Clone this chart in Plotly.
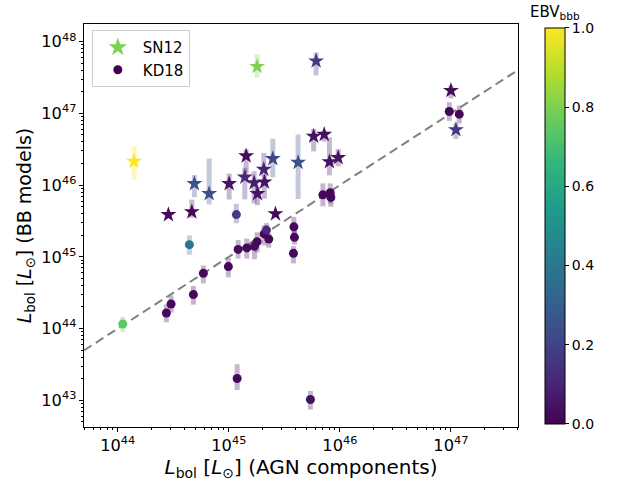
import numpy as np
import plotly.graph_objects as go
from plotly.colors import sample_colorscale

# ---- SN12 sample (stars): log10 luminosities, EBV and asymmetric errors (dex)
sn12_log_agn = [44.147, 45.255, 45.786, 44.456, 44.667, 44.690, 44.823, 45.003,
                45.156, 45.144, 45.228, 45.258, 45.315, 45.321, 45.396, 45.624,
                45.764, 45.859, 45.906, 45.985, 45.420, 47.000, 47.045]
sn12_log_bb = [46.330, 47.653, 47.730, 45.588, 45.627, 46.020, 45.880, 46.020,
               46.407, 46.111, 46.033, 45.880, 46.219, 46.042, 46.368, 46.316,
               46.681, 46.706, 46.326, 46.382, 45.599, 47.319, 46.772]
sn12_ebv = [1.00, 0.80, 0.17, 0.02, 0.02, 0.25, 0.25, 0.05, 0.03, 0.12, 0.08,
            0.05, 0.10, 0.05, 0.22, 0.25, 0.05, 0.05, 0.05, 0.05, 0.02, 0.03, 0.17]
sn12_err_up = [0.21, 0.17, 0.12, 0.03, 0.17, 0.12, 0.49, 0.14, 0.09, 0.13, 0.16,
               0.10, 0.23, 0.10, 0.28, 0.39, 0.10, 0.05, 0.34, 0.12, 0.03, 0.07, 0.09]
sn12_err_dn = [0.26, 0.15, 0.20, 0.03, 0.08, 0.19, 0.15, 0.22, 0.24, 0.31, 0.29,
               0.16, 0.10, 0.23, 0.26, 0.51, 0.21, 0.10, 0.19, 0.12, 0.03, 0.11, 0.13]

# ---- KD18 sample (circles)
kd18_log_agn = [44.045, 44.438, 44.480, 44.681, 44.771, 44.996, 45.084, 45.162,
                45.231, 45.255, 45.318, 45.339, 45.360, 45.586, 45.591, 45.582,
                45.068, 44.645, 45.075, 45.735, 45.847, 45.913, 45.919, 46.985, 47.075]
kd18_log_bb = [44.064, 44.217, 44.343, 44.474, 44.770, 44.864, 45.104, 45.125,
               45.146, 45.212, 45.320, 45.373, 45.248, 45.418, 45.272, 45.049,
               45.589, 45.170, 43.304, 43.011, 45.864, 45.894, 45.829, 47.026, 46.989]
kd18_ebv = [0.75, 0.02, 0.02, 0.02, 0.02, 0.02, 0.03, 0.02, 0.03, 0.02, 0.02,
            0.12, 0.02, 0.02, 0.02, 0.02, 0.18, 0.38, 0.02, 0.05, 0.02, 0.02,
            0.02, 0.02, 0.02]
kd18_err_up = [0.10, 0.12, 0.12, 0.12, 0.11, 0.12, 0.13, 0.13, 0.08, 0.13, 0.12,
               0.10, 0.08, 0.14, 0.10, 0.10, 0.15, 0.13, 0.20, 0.12, 0.16, 0.13,
               0.10, 0.13, 0.12]
kd18_err_dn = [0.11, 0.13, 0.12, 0.14, 0.14, 0.15, 0.13, 0.15, 0.18, 0.15, 0.16,
               0.10, 0.12, 0.10, 0.10, 0.14, 0.12, 0.14, 0.16, 0.14, 0.16, 0.15,
               0.13, 0.13, 0.13]

# axis limits (log10 L_sun)
x_lim = [43.696, 47.604]
y_lim = [42.628, 48.246]

FONT = "DejaVu Sans"
STAR_SIZE = 12
DOT_SIZE = 9
fig = go.Figure()


def add_errorbars(log_x, log_y, up, dn, ebv):
    cols = sample_colorscale("Viridis", ebv)
    for lx, ly, u, d, c in zip(log_x, log_y, up, dn, cols):
        rgb = c[c.index("(") + 1:c.index(")")]
        fig.add_trace(go.Scatter(
            x=[10 ** lx, 10 ** lx], y=[10 ** (ly - d), 10 ** (ly + u)],
            mode="lines", line=dict(color=f"rgba({rgb},0.3)", width=5),
            hoverinfo="skip", showlegend=False))


add_errorbars(kd18_log_agn, kd18_log_bb, kd18_err_up, kd18_err_dn, kd18_ebv)
add_errorbars(sn12_log_agn, sn12_log_bb, sn12_err_up, sn12_err_dn, sn12_ebv)

# one-to-one relation
fig.add_trace(go.Scatter(
    x=[10 ** x_lim[0], 10 ** x_lim[1]], y=[10 ** x_lim[0], 10 ** x_lim[1]],
    mode="lines", line=dict(color="#808080", width=2, dash="9px,5px"),
    hoverinfo="skip", showlegend=False))

fig.add_trace(go.Scatter(
    x=10 ** np.array(kd18_log_agn), y=10 ** np.array(kd18_log_bb),
    mode="markers", showlegend=False,
    marker=dict(symbol="circle", size=DOT_SIZE, color=kd18_ebv, cmin=0, cmax=1,
                colorscale="Viridis", line=dict(width=0))))

fig.add_trace(go.Scatter(
    x=10 ** np.array(sn12_log_agn), y=10 ** np.array(sn12_log_bb),
    mode="markers", showlegend=False,
    marker=dict(symbol="star", size=STAR_SIZE, color=sn12_ebv, cmin=0, cmax=1,
                colorscale="Viridis", line=dict(width=0),
                showscale=True,
                colorbar=dict(
                    x=(545 - 84) / 434, xanchor="left", xpad=0, ypad=0,
                    y=0.4988, yanchor="middle", len=0.983, lenmode="fraction",
                    thickness=20, outlinewidth=1, outlinecolor="black",
                    tickvals=[0, 0.2, 0.4, 0.6, 0.8, 1.0], tickformat=".1f",
                    ticks="outside", ticklen=4, tickcolor="black",
                    tickfont=dict(family=FONT, size=14, color="black")))))

# legend entries (placed on the minor-tick overlay axes so those axes render)
fig.add_trace(go.Scatter(x=[None], y=[None], mode="markers", name="SN12",
                         xaxis="x2", yaxis="y2",
                         marker=dict(symbol="star", size=STAR_SIZE + 2,
                                     color=sample_colorscale("Viridis", [0.8])[0])))
fig.add_trace(go.Scatter(x=[None], y=[None], mode="markers", name="KD18",
                         xaxis="x2", yaxis="y2",
                         marker=dict(symbol="circle", size=DOT_SIZE,
                                     color=sample_colorscale("Viridis", [0.0])[0])))


def minor_ticks(lim):
    vals = []
    for d in range(int(np.floor(lim[0])), int(np.ceil(lim[1])) + 1):
        for m in range(2, 10):
            v = np.log10(m) + d
            if lim[0] <= v <= lim[1]:
                vals.append(m * 10.0 ** d)
    return vals


axis_common = dict(
    type="log", dtick=1, exponentformat="power", showgrid=False, zeroline=False,
    showline=True, linecolor="black", linewidth=1, mirror=True,
    ticks="outside", ticklen=4, tickcolor="black",
    tickfont=dict(family=FONT, size=13, color="black"),
)
minor_common = dict(
    type="log", showgrid=False, zeroline=False, showline=False,
    ticks="outside", ticklen=2, tickcolor="black", showticklabels=False,
)

fig.update_layout(
    width=624, height=484,
    margin=dict(l=84, r=106, t=24, b=57),
    paper_bgcolor="white", plot_bgcolor="white",
    font=dict(family=FONT, color="black"),
    xaxis=dict(range=x_lim, title=dict(
        text="<i>L</i><sub>bol</sub> [<i>L</i><sub>\u2299</sub>] (AGN components)",
        font=dict(family=FONT, size=20), standoff=3), **axis_common),
    yaxis=dict(range=y_lim, title=dict(
        text="<i>L</i><sub>bol</sub> [<i>L</i><sub>\u2299</sub>] (BB models)",
        font=dict(family=FONT, size=19), standoff=4), **axis_common),
    xaxis2=dict(range=x_lim, overlaying="x", anchor="y", side="bottom",
                tickvals=minor_ticks(x_lim), **minor_common),
    yaxis2=dict(range=y_lim, overlaying="y", anchor="x", side="left",
                tickvals=minor_ticks(y_lim), **minor_common),
    legend=dict(x=0.018, y=0.985, xanchor="left", yanchor="top",
                bgcolor="white", bordercolor="#cccccc", borderwidth=1,
                itemwidth=40, font=dict(family=FONT, size=15)),
    annotations=[dict(text="EBV<sub>bbb</sub>", xref="paper", yref="paper",
                      x=(555 - 84) / 434, y=1.0, yshift=12, xanchor="center",
                      yanchor="middle", showarrow=False,
                      font=dict(family=FONT, size=15, color="black"))],
)

fig.write_html("out.html")
